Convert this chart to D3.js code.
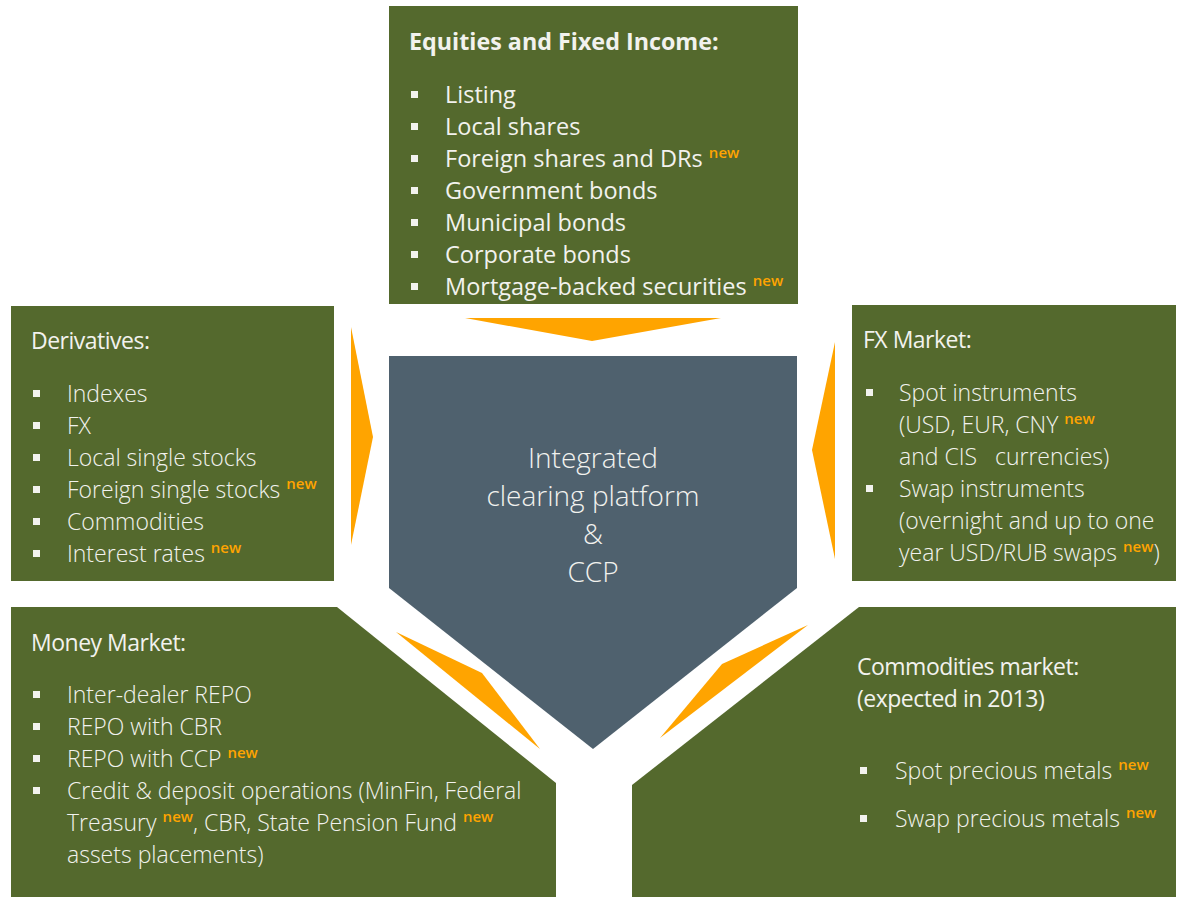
<!DOCTYPE html>
<html>
<head>
<meta charset="utf-8">
<script src="https://cdn.jsdelivr.net/npm/d3@7"></script>
<style>
  body { margin: 0; background: #fff; }
  svg { display: block; }
  text { font-family: "Open Sans", sans-serif; white-space: pre; }
</style>
</head>
<body>
<div id="chart"></div>
<script>
// ---- content ----
// "{new}" marks the orange superscript tag
const equitiesTitle = ["Equities and Fixed Income:"];
const equitiesItems = [
  ["Listing"], ["Local shares"], ["Foreign shares and DRs {new}"],
  ["Government bonds"], ["Municipal bonds"], ["Corporate bonds"],
  ["Mortgage-backed securities {new}"]
];
const derivativesTitle = ["Derivatives:"];
const derivativesItems = [
  ["Indexes"], ["FX"], ["Local single stocks"], ["Foreign single stocks {new}"],
  ["Commodities"], ["Interest rates {new}"]
];
const fxTitle = ["FX Market:"];
const fxItems = [
  ["Spot instruments", "(USD, EUR, CNY {new}", "and CIS   currencies)"],
  ["Swap instruments", "(overnight and up to one", "year USD/RUB swaps {new})"]
];
const moneyTitle = ["Money Market:"];
const moneyItems = [
  ["Inter-dealer REPO"], ["REPO with CBR"], ["REPO with CCP {new}"],
  ["Credit & deposit operations (MinFin, Federal",
   "Treasury {new}, CBR, State Pension Fund {new}",
   "assets placements)"]
];
const commoditiesTitle = ["Commodities market:", "(expected in 2013)"];
const commoditiesItems = [
  ["Spot precious metals {new}"], ["Swap precious metals {new}"]
];
const centerLines = ["Integrated", "clearing platform", "&", "CCP"];

// ---- styling ----
const GREEN = "#54692D", SLATE = "#4F616E", ORANGE = "#FFA400", TXT = "#F2F2EE";
const width = 1181, height = 897;

const svg = d3.select("#chart").append("svg")
  .attr("width", width).attr("height", height);

const outline = d3.line().curve(d3.curveLinearClosed);

// shapes (layout only)
const shapes = [
  {fill: GREEN, pts: [[389,6],[798,6],[798,304],[389,304]]},
  {fill: GREEN, pts: [[11,306],[334,306],[334,581],[11,581]]},
  {fill: GREEN, pts: [[852,305],[1176,305],[1176,581],[852,581]]},
  {fill: GREEN, pts: [[11,607],[337,607],[556,783],[556,897],[11,897]]},
  {fill: GREEN, pts: [[859,607],[1176,607],[1176,897],[632,897],[632,785]]},
  {fill: SLATE, pts: [[389,356],[797,356],[797,588],[593,749],[389,588]]},
  // orange arrows
  {fill: ORANGE, pts: [[465,318],[721,318],[592,341]]},
  {fill: ORANGE, pts: [[351,327],[373,437],[351,545]]},
  {fill: ORANGE, pts: [[835,342],[812,450],[835,559]]},
  {fill: ORANGE, pts: [[396,632],[482,673],[540,749]]},
  {fill: ORANGE, pts: [[808,625],[722,664],[660,738]]}
];

svg.selectAll("path.shape").data(shapes).join("path")
  .attr("class", "shape")
  .attr("d", d => outline(d.pts))
  .attr("fill", d => d.fill);

// box layout
const boxes = [
  {title: equitiesTitle, items: equitiesItems, bold: true, titleSize: 23.3, size: 23.5,
   tx: 409, ty: 42, bx: 411, x: 445, y0: 95, step: 32},
  {title: derivativesTitle, items: derivativesItems, bold: false, titleSize: 23, size: 23,
   tx: 31, ty: 341, bx: 33, x: 67, y0: 394, step: 32},
  {title: fxTitle, items: fxItems, bold: false, titleSize: 23, size: 23,
   tx: 863, ty: 340, bx: 866, x: 899, y0: 393, step: 32},
  {title: moneyTitle, items: moneyItems, bold: false, titleSize: 23, size: 23,
   tx: 31, ty: 643, bx: 33, x: 67, y0: 695, step: 32},
  {title: commoditiesTitle, items: commoditiesItems, bold: false, titleSize: 23, size: 23,
   tx: 857, ty: 667, bx: 860, x: 895, y0: 771, step: 48}
];

function writeLine(sel, str, size) {
  const parts = str.split("{new}");
  parts.forEach((p, i) => {
    if (i > 0) {
      sel.append("tspan").attr("dy", -size * 0.4)
        .attr("font-size", 15).attr("font-weight", 600)
        .attr("fill", ORANGE).text("new");
      sel.append("tspan").attr("dy", size * 0.4).text(p);
    } else if (p.length) {
      sel.append("tspan").text(p);
    }
  });
}

boxes.forEach(b => {
  const g = svg.append("g");
  const ty = d3.scaleLinear().domain([0, 1]).range([b.ty, b.ty + 32]);
  b.title.forEach((t, i) => {
    g.append("text")
      .attr("x", b.tx).attr("y", ty(i)).attr("dy", "0.35em")
      .attr("font-size", b.titleSize)
      .attr("font-weight", b.bold ? 700 : 400)
      .attr("letter-spacing", b.bold ? 0 : -0.5)
      .attr("fill", TXT).text(t);
  });
  // flatten to lines, bullet on first line of every item
  const lines = [];
  b.items.forEach(item => item.forEach((l, j) => lines.push({text: l, bullet: j === 0})));
  const ly = d3.scaleLinear().domain([0, 1]).range([b.y0, b.y0 + b.step]);
  lines.forEach((l, i) => {
    if (l.bullet) {
      g.append("rect").attr("x", b.bx).attr("y", ly(i) - 4)
        .attr("width", 7).attr("height", 7).attr("fill", TXT);
    }
    const t = g.append("text")
      .attr("x", b.x).attr("y", ly(i)).attr("dy", "0.35em")
      .attr("font-size", b.size)
      .attr("font-weight", b.bold ? 400 : 300)
      .attr("fill", TXT);
    writeLine(t, l.text, b.size);
  });
});

// centre label
const cy = d3.scaleLinear().domain([0, 1]).range([458, 496]);
svg.append("g").selectAll("text").data(centerLines).join("text")
  .attr("x", 593).attr("y", (d, i) => cy(i)).attr("dy", "0.35em")
  .attr("text-anchor", "middle")
  .attr("font-size", 28).attr("font-weight", 300)
  .attr("fill", TXT).text(d => d);
</script>
</body>
</html>
